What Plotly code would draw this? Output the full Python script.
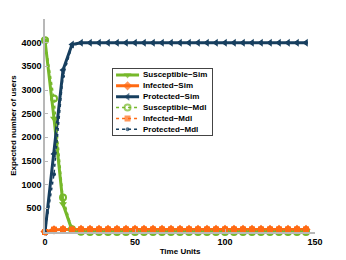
import plotly.graph_objects as go

time_units = [0, 5, 10, 15, 20, 25, 30, 35, 40, 45, 50, 55, 60, 65, 70, 75, 80, 85, 90, 95,
              100, 105, 110, 115, 120, 125, 130, 135, 140, 145]
susceptible_sim = [4050, 2400, 590, 40, 0, 0, 0, 0, 0, 0, 0, 0, 0, 0, 0, 0, 0, 0, 0, 0,
                   0, 0, 0, 0, 0, 0, 0, 0, 0, 0]
infected_sim = [10, 45, 55, 55, 55, 55, 55, 55, 55, 55, 55, 55, 55, 55, 55, 55, 55, 55, 55, 55,
                55, 55, 55, 55, 55, 55, 55, 55, 55, 55]
protected_sim = [0, 1650, 3420, 3960, 4000, 4000, 4000, 4000, 4000, 4000, 4000, 4000, 4000, 4000,
                 4000, 4000, 4000, 4000, 4000, 4000, 4000, 4000, 4000, 4000, 4000, 4000, 4000,
                 4000, 4000, 4000]
susceptible_mdl = [4050, 2820, 730, 60, 5, 0, 0, 0, 0, 0, 0, 0, 0, 0, 0, 0, 0, 0, 0, 0,
                   0, 0, 0, 0, 0, 0, 0, 0, 0, 0]
infected_mdl = [0, 50, 55, 55, 55, 55, 55, 55, 55, 55, 55, 55, 55, 55, 55, 55, 55, 55, 55, 55,
                55, 55, 55, 55, 55, 55, 55, 55, 55, 55]
protected_mdl = [0, 1220, 3290, 3930, 3995, 4000, 4000, 4000, 4000, 4000, 4000, 4000, 4000, 4000,
                 4000, 4000, 4000, 4000, 4000, 4000, 4000, 4000, 4000, 4000, 4000, 4000, 4000,
                 4000, 4000, 4000]

series_names = ["Susceptible\u2212Sim", "Infected\u2212Sim", "Protected\u2212Sim",
                "Susceptible\u2212Mdl", "Infected\u2212Mdl", "Protected\u2212Mdl"]
x_ticks = [0, 50, 100, 150]
y_ticks = [500, 1000, 1500, 2000, 2500, 3000, 3500, 4000]

GREEN = "#76b82a"
ORANGE = "#ff6a13"
NAVY = "#173f5f"
FONT = "Liberation Sans"

styles = [
    dict(color=GREEN, dash="solid", width=3, symbol="triangle-down", size=7, mline=0),
    dict(color=ORANGE, dash="solid", width=3, symbol="diamond", size=7, mline=0),
    dict(color=NAVY, dash="solid", width=3, symbol="triangle-left", size=7, mline=0),
    dict(color=GREEN, dash="dot", width=1.5, symbol="circle-open", size=6, mline=2),
    dict(color=ORANGE, dash="dot", width=1.5, symbol="square", size=6, mline=0),
    dict(color=NAVY, dash="dot", width=1.5, symbol="circle", size=4, mline=0),
]
series = [susceptible_sim, infected_sim, protected_sim,
          susceptible_mdl, infected_mdl, protected_mdl]

fig = go.Figure()
for name, ys, st in zip(series_names, series, styles):
    fig.add_trace(go.Scatter(
        x=time_units, y=ys, name=name, mode="lines+markers", showlegend=False,
        line=dict(color=st["color"], dash=st["dash"], width=st["width"]),
        marker=dict(symbol=st["symbol"], size=st["size"], color=st["color"],
                    line=dict(width=st["mline"], color=st["color"])),
        cliponaxis=False,
    ))

# custom compact legend on a secondary axis (pixel-like units)
legend_rows = [6, 17, 28, 39, 50, 61]
for name, row, st in zip(series_names, legend_rows, styles):
    fig.add_trace(go.Scatter(
        x=[3, 14.5, 26], y=[row, row, row], mode="lines+markers", showlegend=False,
        xaxis="x2", yaxis="y2", hoverinfo="skip",
        line=dict(color=st["color"], dash=st["dash"], width=st["width"]),
        marker=dict(symbol=st["symbol"], size=[0, st["size"], 0], color=st["color"],
                    line=dict(width=st["mline"], color=st["color"])),
    ))
    fig.add_annotation(x=28, y=row, xref="x2", yref="y2", text="<b>%s</b>" % name,
                       showarrow=False, xanchor="left", yanchor="middle",
                       font=dict(family=FONT, size=8, color="black"))

fig.update_layout(
    width=346, height=260,
    margin=dict(l=45, r=31, t=19, b=28),
    paper_bgcolor="white", plot_bgcolor="white",
    font=dict(family=FONT, size=9, color="black"),
    xaxis=dict(range=[0, 150], tickvals=x_ticks, ticktext=["<b>%d</b>" % v for v in x_ticks],
               showgrid=False, zeroline=False, showline=True, linecolor="#b8b8b8",
               linewidth=1.5, ticks="inside", ticklen=3, tickcolor="#b8b8b8",
               automargin=False,
               title=dict(text="<b>Time Units</b>", font=dict(size=8), standoff=3)),
    yaxis=dict(range=[0, 4500], tickvals=y_ticks, ticktext=["<b>%d</b>" % v for v in y_ticks],
               showgrid=False, zeroline=False, showline=True, linecolor="#b8b8b8",
               linewidth=1.5, ticks="inside", ticklen=3, tickcolor="#b8b8b8",
               automargin=False,
               title=dict(text="<b>Expected number of users</b>", font=dict(size=8), standoff=4)),
    xaxis2=dict(domain=[0.252, 0.619], range=[0, 99], anchor="y2", showgrid=False,
                zeroline=False, showticklabels=False, ticks="", showline=True, mirror=True,
                linecolor="#444", linewidth=1, fixedrange=True, automargin=False),
    yaxis2=dict(domain=[0.454, 0.765], range=[67, 0], anchor="x2", showgrid=False,
                zeroline=False, showticklabels=False, ticks="", showline=True, mirror=True,
                linecolor="#444", linewidth=1, fixedrange=True, automargin=False),
)

fig.write_html("out.html", config={"displayModeBar": False},
               post_script="document.body.style.margin='0';")
